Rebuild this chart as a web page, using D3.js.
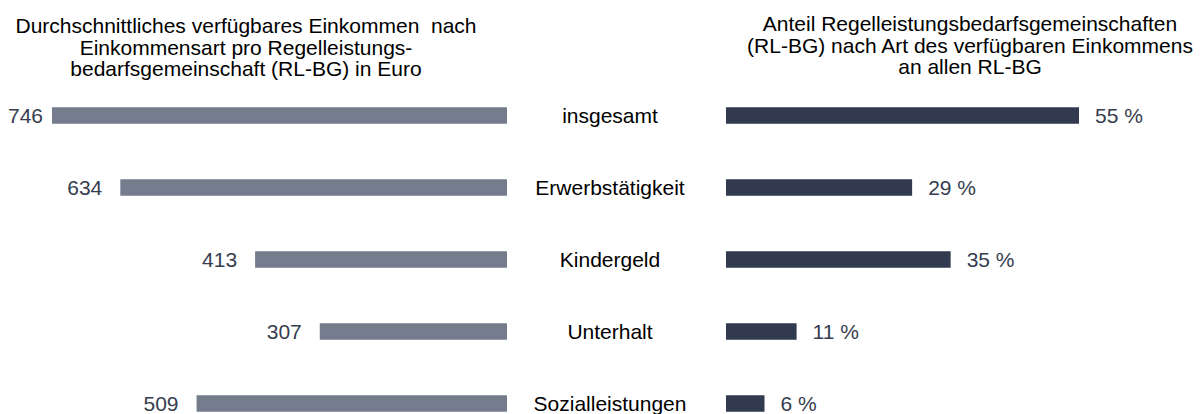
<!DOCTYPE html>
<html lang="de">

<head>
  <meta charset="UTF-8">
  <script src="https://d3js.org/d3.v7.min.js"></script>
  <title>Einkommen RL-BG</title>
  <style>
    body {
      margin: 0;
      background: #fff;
    }

    text {
      font-family: "Liberation Sans", Arial, sans-serif;
      font-size: 21px;
    }
  </style>
</head>

<body>
  <div id="chart"></div>
  <script>
    // Data
    const categories = ["insgesamt", "Erwerbstätigkeit", "Kindergeld", "Unterhalt", "Sozialleistungen"];
    const euroValues = [746, 634, 413, 307, 509];
    const shareValues = [55, 29, 35, 11, 6];
    const leftTitle = [
      "Durchschnittliches verfügbares Einkommen  nach",
      "Einkommensart pro Regelleistungs-",
      "bedarfsgemeinschaft (RL-BG) in Euro"
    ];
    const rightTitle = [
      "Anteil Regelleistungsbedarfsgemeinschaften",
      "(RL-BG) nach Art des verfügbaren Einkommens",
      "an allen RL-BG"
    ];

    const width = 1202;
    const height = 414;
    const barHeight = 16.5;

    const svg = d3.select("#chart")
      .append("svg")
      .attr("width", width)
      .attr("height", height);

    const rows = categories.map((c, i) => ({ cat: c, euro: euroValues[i], share: shareValues[i] }));

    // Scales
    const y = d3.scalePoint()
      .domain(categories)
      .range([115.5, 403.5]);

    const xLeft = d3.scaleLinear()
      .domain([0, 746])
      .range([507, 52]);

    const xRight = d3.scaleLinear()
      .domain([0, 55])
      .range([726, 1079]);

    // Left bars (Euro)
    const left = svg.append("g");
    left.selectAll("rect")
      .data(rows)
      .join("rect")
      .attr("x", d => xLeft(d.euro))
      .attr("y", d => y(d.cat) - barHeight / 2)
      .attr("width", d => xLeft(0) - xLeft(d.euro))
      .attr("height", barHeight)
      .attr("fill", "#747c8d");

    left.selectAll("text")
      .data(rows)
      .join("text")
      .attr("text-anchor", "end")
      .attr("y", d => y(d.cat))
      .attr("dy", "0.36em")
      .attr("fill", "#363d4f")
      .text(d => d.euro)
      .attr("x", function (d) {
        const w = this.getComputedTextLength();
        return Math.max(xLeft(d.euro) - 18, 8 + w);
      });

    // Category labels in the middle
    svg.append("g")
      .selectAll("text")
      .data(rows)
      .join("text")
      .attr("x", 610)
      .attr("y", d => y(d.cat))
      .attr("dy", "0.36em")
      .attr("text-anchor", "middle")
      .attr("fill", "#000")
      .text(d => d.cat);

    // Right bars (Anteil)
    const right = svg.append("g");
    right.selectAll("rect")
      .data(rows)
      .join("rect")
      .attr("x", xRight(0))
      .attr("y", d => y(d.cat) - barHeight / 2)
      .attr("width", d => xRight(d.share) - xRight(0))
      .attr("height", barHeight)
      .attr("fill", "#323a4f");

    right.selectAll("text")
      .data(rows)
      .join("text")
      .attr("x", d => xRight(d.share) + 16)
      .attr("y", d => y(d.cat))
      .attr("dy", "0.36em")
      .attr("fill", "#363d4f")
      .text(d => d.share + " %");

    // Titles
    function title(lines, cx, y0) {
      const t = svg.append("text")
        .attr("text-anchor", "middle")
        .attr("fill", "#000")
        .attr("xml:space", "preserve")
        .style("white-space", "pre");
      t.selectAll("tspan")
        .data(lines)
        .join("tspan")
        .attr("x", cx)
        .attr("y", (d, i) => y0 + i * 21.5)
        .text(d => d);
    }

    title(leftTitle, 246, 33);
    title(rightTitle, 970, 31);
  </script>
</body>

</html>
